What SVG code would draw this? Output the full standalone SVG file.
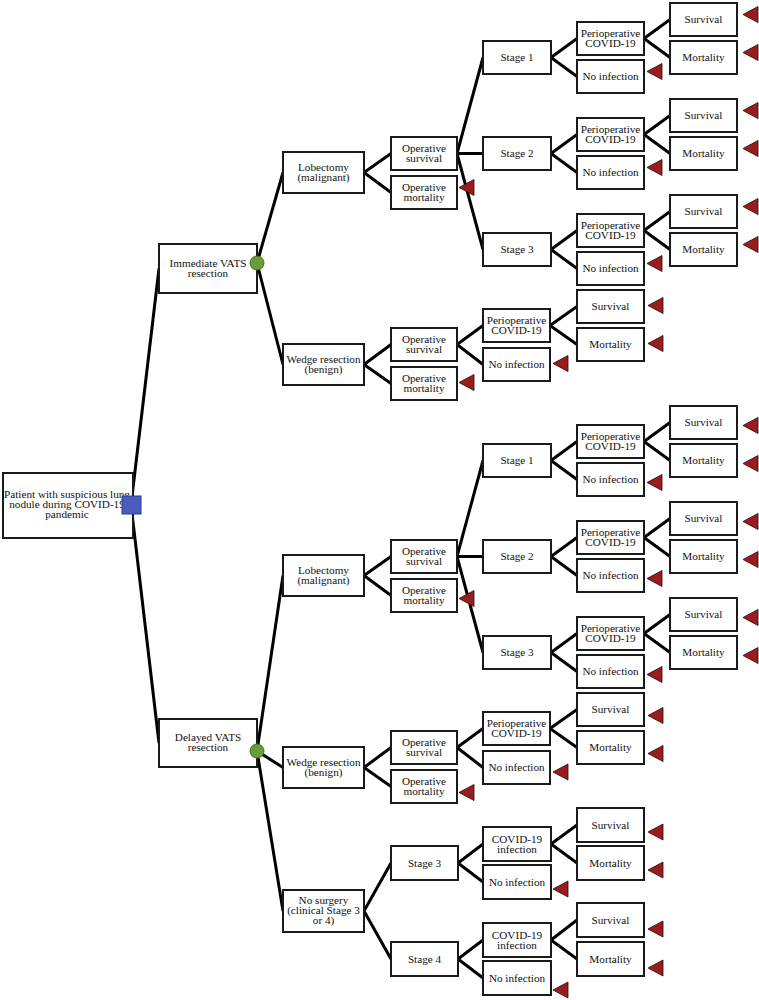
<svg xmlns="http://www.w3.org/2000/svg" width="759" height="1000" viewBox="0 0 759 1000">
<defs>
<style>
.b{fill:#fff;stroke:#1a1a1a;stroke-width:2}
.t{font-family:"Liberation Serif","Times New Roman",serif;font-size:11.2px;text-anchor:middle;fill:#111}
.c{stroke:#000;stroke-width:3;fill:none}
.tri{fill:#9b1c1c;stroke:#2a0a0a;stroke-width:0.8}
.chance{fill:#6b9c3a;stroke:#46701f;stroke-width:1}
.dec{fill:#4a5cc0;stroke:#2b3a8e;stroke-width:1}
</style>
<polygon id="term" class="tri" points="0,0 15,-8 15,8"/>
</defs>
<rect width="759" height="1000" fill="#fff"/>
<g id="connectors" class="c">
<path d="M131 505L159 268.5M131 505L159 743"/>
<path d="M257 263L283 172.5M257 263L283 364.5"/>
<path d="M364 172.5L391 153.5M364 172.5L391 192.5"/>
<path d="M457 153.5L483 57.5M457 153.5L483 153.5M457 153.5L483 249.5"/>
<path d="M551 57.5L577 38.5M551 57.5L577 76.5M644 38.5L670 19.5M644 38.5L670 57.5"/>
<path d="M551 153.5L577 134.5M551 153.5L577 172.5M644 134.5L670 115.5M644 134.5L670 153.5"/>
<path d="M551 249.5L577 230.5M551 249.5L577 268.5M644 230.5L670 211.5M644 230.5L670 249.5"/>
<path d="M364 364.5L391 344.5M364 364.5L391 383.5M457 344.5L483 325.5M457 344.5L483 364.5M550 325.5L577 306.5M550 325.5L577 344.5"/>
<path d="M257 751L283 575.5M257 751L283 767.5M257 751L283 911"/>
<path d="M364 575.5L391 556.5M364 575.5L391 595.5"/>
<path d="M457 556.5L483 460.5M457 556.5L483 556.5M457 556.5L483 652.5"/>
<path d="M551 460.5L577 441.5M551 460.5L577 479.5M644 441.5L670 422.5M644 441.5L670 460.5"/>
<path d="M551 556.5L577 537.5M551 556.5L577 575.5M644 537.5L670 518.5M644 537.5L670 556.5"/>
<path d="M551 652.5L577 633.5M551 652.5L577 671.5M644 633.5L670 614.5M644 633.5L670 652.5"/>
<path d="M364 767.5L391 747.5M364 767.5L391 786.5M457 747.5L483 728.5M457 747.5L483 767.5M550 728.5L577 709.5M550 728.5L577 747.5"/>
<path d="M364 911L391 863M364 911L391 959M458 863L483 844M458 863L483 882M551 844L577 825M551 844L577 863"/>
<path d="M458 959L483 940M458 959L483 978M551 940L577 920M551 940L577 959"/>
</g>
<g id="root"><rect class="b" x="3" y="473" width="130" height="65"/><text class="t"><tspan x="67" y="498">Patient with suspicious lung</tspan><tspan x="67" y="508">nodule during COVID-19</tspan><tspan x="67" y="518">pandemic</tspan></text></g>
<g id="immediate"><rect class="b" x="159" y="244" width="98" height="49"/><text class="t"><tspan x="208" y="267">Immediate VATS</tspan><tspan x="208" y="277">resection</tspan></text></g>
<g id="lob-u"><rect class="b" x="283" y="152" width="81" height="41"/><text class="t"><tspan x="323.5" y="171">Lobectomy</tspan><tspan x="323.5" y="181">(malignant)</tspan></text></g>
<g id="os-lob-u"><rect class="b" x="391" y="137" width="66" height="33"/><text class="t"><tspan x="424" y="152">Operative</tspan><tspan x="424" y="162">survival</tspan></text></g>
<g id="om-lob-u"><rect class="b" x="391" y="176" width="66" height="33"/><text class="t"><tspan x="424" y="191">Operative</tspan><tspan x="424" y="201">mortality</tspan></text></g>
<g id="s1-u"><rect class="b" x="483" y="41" width="68" height="33"/><text class="t" x="517" y="61">Stage 1</text></g>
<g id="p1-u"><rect class="b" x="577" y="22" width="67" height="33"/><text class="t"><tspan x="610.5" y="37">Perioperative</tspan><tspan x="610.5" y="47">COVID-19</tspan></text></g>
<g id="ni1-u"><rect class="b" x="577" y="60" width="67" height="33"/><text class="t" x="610.5" y="80">No infection</text></g>
<g id="sv1-u"><rect class="b" x="670" y="3" width="67" height="33"/><text class="t" x="703.5" y="23">Survival</text></g>
<g id="mt1-u"><rect class="b" x="670" y="41" width="67" height="33"/><text class="t" x="703.5" y="61">Mortality</text></g>
<g id="s2-u"><rect class="b" x="483" y="137" width="68" height="33"/><text class="t" x="517" y="157">Stage 2</text></g>
<g id="p2-u"><rect class="b" x="577" y="118" width="67" height="33"/><text class="t"><tspan x="610.5" y="133">Perioperative</tspan><tspan x="610.5" y="143">COVID-19</tspan></text></g>
<g id="ni2-u"><rect class="b" x="577" y="156" width="67" height="33"/><text class="t" x="610.5" y="176">No infection</text></g>
<g id="sv2-u"><rect class="b" x="670" y="99" width="67" height="33"/><text class="t" x="703.5" y="119">Survival</text></g>
<g id="mt2-u"><rect class="b" x="670" y="137" width="67" height="33"/><text class="t" x="703.5" y="157">Mortality</text></g>
<g id="s3-u"><rect class="b" x="483" y="233" width="68" height="33"/><text class="t" x="517" y="253">Stage 3</text></g>
<g id="p3-u"><rect class="b" x="577" y="214" width="67" height="33"/><text class="t"><tspan x="610.5" y="229">Perioperative</tspan><tspan x="610.5" y="239">COVID-19</tspan></text></g>
<g id="ni3-u"><rect class="b" x="577" y="252" width="67" height="33"/><text class="t" x="610.5" y="272">No infection</text></g>
<g id="sv3-u"><rect class="b" x="670" y="195" width="67" height="33"/><text class="t" x="703.5" y="215">Survival</text></g>
<g id="mt3-u"><rect class="b" x="670" y="233" width="67" height="33"/><text class="t" x="703.5" y="253">Mortality</text></g>
<g id="wedge-u"><rect class="b" x="283" y="344" width="81" height="41"/><text class="t"><tspan x="323.5" y="363">Wedge resection</tspan><tspan x="323.5" y="373">(benign)</tspan></text></g>
<g id="os-w-u"><rect class="b" x="391" y="328" width="66" height="33"/><text class="t"><tspan x="424" y="343">Operative</tspan><tspan x="424" y="353">survival</tspan></text></g>
<g id="om-w-u"><rect class="b" x="391" y="367" width="66" height="33"/><text class="t"><tspan x="424" y="382">Operative</tspan><tspan x="424" y="392">mortality</tspan></text></g>
<g id="pw-u"><rect class="b" x="483" y="309" width="67" height="33"/><text class="t"><tspan x="516.5" y="324">Perioperative</tspan><tspan x="516.5" y="334">COVID-19</tspan></text></g>
<g id="niw-u"><rect class="b" x="483" y="348" width="67" height="33"/><text class="t" x="516.5" y="368">No infection</text></g>
<g id="svw-u"><rect class="b" x="577" y="290" width="67" height="33"/><text class="t" x="610.5" y="310">Survival</text></g>
<g id="mtw-u"><rect class="b" x="577" y="328" width="67" height="33"/><text class="t" x="610.5" y="348">Mortality</text></g>
<g id="delayed"><rect class="b" x="159" y="719" width="98" height="48"/><text class="t"><tspan x="208" y="741">Delayed VATS</tspan><tspan x="208" y="751">resection</tspan></text></g>
<g id="lob-l"><rect class="b" x="283" y="555" width="81" height="41"/><text class="t"><tspan x="323.5" y="574">Lobectomy</tspan><tspan x="323.5" y="584">(malignant)</tspan></text></g>
<g id="os-lob-l"><rect class="b" x="391" y="540" width="66" height="33"/><text class="t"><tspan x="424" y="555">Operative</tspan><tspan x="424" y="565">survival</tspan></text></g>
<g id="om-lob-l"><rect class="b" x="391" y="579" width="66" height="33"/><text class="t"><tspan x="424" y="594">Operative</tspan><tspan x="424" y="604">mortality</tspan></text></g>
<g id="s1-l"><rect class="b" x="483" y="444" width="68" height="33"/><text class="t" x="517" y="464">Stage 1</text></g>
<g id="p1-l"><rect class="b" x="577" y="425" width="67" height="33"/><text class="t"><tspan x="610.5" y="440">Perioperative</tspan><tspan x="610.5" y="450">COVID-19</tspan></text></g>
<g id="ni1-l"><rect class="b" x="577" y="463" width="67" height="33"/><text class="t" x="610.5" y="483">No infection</text></g>
<g id="sv1-l"><rect class="b" x="670" y="406" width="67" height="33"/><text class="t" x="703.5" y="426">Survival</text></g>
<g id="mt1-l"><rect class="b" x="670" y="444" width="67" height="33"/><text class="t" x="703.5" y="464">Mortality</text></g>
<g id="s2-l"><rect class="b" x="483" y="540" width="68" height="33"/><text class="t" x="517" y="560">Stage 2</text></g>
<g id="p2-l"><rect class="b" x="577" y="521" width="67" height="33"/><text class="t"><tspan x="610.5" y="536">Perioperative</tspan><tspan x="610.5" y="546">COVID-19</tspan></text></g>
<g id="ni2-l"><rect class="b" x="577" y="559" width="67" height="33"/><text class="t" x="610.5" y="579">No infection</text></g>
<g id="sv2-l"><rect class="b" x="670" y="502" width="67" height="33"/><text class="t" x="703.5" y="522">Survival</text></g>
<g id="mt2-l"><rect class="b" x="670" y="540" width="67" height="33"/><text class="t" x="703.5" y="560">Mortality</text></g>
<g id="s3-l"><rect class="b" x="483" y="636" width="68" height="33"/><text class="t" x="517" y="656">Stage 3</text></g>
<g id="p3-l"><rect class="b" x="577" y="617" width="67" height="33"/><text class="t"><tspan x="610.5" y="632">Perioperative</tspan><tspan x="610.5" y="642">COVID-19</tspan></text></g>
<g id="ni3-l"><rect class="b" x="577" y="655" width="67" height="33"/><text class="t" x="610.5" y="675">No infection</text></g>
<g id="sv3-l"><rect class="b" x="670" y="598" width="67" height="33"/><text class="t" x="703.5" y="618">Survival</text></g>
<g id="mt3-l"><rect class="b" x="670" y="636" width="67" height="33"/><text class="t" x="703.5" y="656">Mortality</text></g>
<g id="wedge-l"><rect class="b" x="283" y="747" width="81" height="41"/><text class="t"><tspan x="323.5" y="766">Wedge resection</tspan><tspan x="323.5" y="776">(benign)</tspan></text></g>
<g id="os-w-l"><rect class="b" x="391" y="731" width="66" height="33"/><text class="t"><tspan x="424" y="746">Operative</tspan><tspan x="424" y="756">survival</tspan></text></g>
<g id="om-w-l"><rect class="b" x="391" y="770" width="66" height="33"/><text class="t"><tspan x="424" y="785">Operative</tspan><tspan x="424" y="795">mortality</tspan></text></g>
<g id="pw-l"><rect class="b" x="483" y="712" width="67" height="33"/><text class="t"><tspan x="516.5" y="727">Perioperative</tspan><tspan x="516.5" y="737">COVID-19</tspan></text></g>
<g id="niw-l"><rect class="b" x="483" y="751" width="67" height="33"/><text class="t" x="516.5" y="771">No infection</text></g>
<g id="svw-l"><rect class="b" x="577" y="693" width="67" height="33"/><text class="t" x="610.5" y="713">Survival</text></g>
<g id="mtw-l"><rect class="b" x="577" y="731" width="67" height="33"/><text class="t" x="610.5" y="751">Mortality</text></g>
<g id="nosurg"><rect class="b" x="283" y="890" width="81" height="42"/><text class="t"><tspan x="323.5" y="903.5">No surgery</tspan><tspan x="323.5" y="913.5">(clinical Stage 3</tspan><tspan x="323.5" y="923.5">or 4)</tspan></text></g>
<g id="ns-s3"><rect class="b" x="391" y="846" width="67" height="34"/><text class="t" x="424.5" y="866.5">Stage 3</text></g>
<g id="ns-s4"><rect class="b" x="391" y="942" width="67" height="34"/><text class="t" x="424.5" y="962.5">Stage 4</text></g>
<g id="ns-c3"><rect class="b" x="483" y="827" width="68" height="34"/><text class="t"><tspan x="517" y="842.5">COVID-19</tspan><tspan x="517" y="852.5">infection</tspan></text></g>
<g id="ns-ni3"><rect class="b" x="483" y="865" width="68" height="34"/><text class="t" x="517" y="885.5">No infection</text></g>
<g id="ns-sv3"><rect class="b" x="577" y="808" width="67" height="34"/><text class="t" x="610.5" y="828.5">Survival</text></g>
<g id="ns-mt3"><rect class="b" x="577" y="846" width="67" height="34"/><text class="t" x="610.5" y="866.5">Mortality</text></g>
<g id="ns-c4"><rect class="b" x="483" y="923" width="68" height="34"/><text class="t"><tspan x="517" y="938.5">COVID-19</tspan><tspan x="517" y="948.5">infection</tspan></text></g>
<g id="ns-ni4"><rect class="b" x="483" y="961" width="68" height="34"/><text class="t" x="517" y="981.5">No infection</text></g>
<g id="ns-sv4"><rect class="b" x="577" y="903" width="67" height="34"/><text class="t" x="610.5" y="923.5">Survival</text></g>
<g id="ns-mt4"><rect class="b" x="577" y="942" width="67" height="34"/><text class="t" x="610.5" y="962.5">Mortality</text></g>
<g id="decision"><rect class="dec" x="122" y="496" width="19" height="18"/></g>
<g id="chance-nodes">
<circle class="chance" cx="257" cy="263" r="7"/>
<circle class="chance" cx="257" cy="751" r="7"/>
</g>
<g id="terminals">
<use href="#term" x="743" y="14.5"/><use href="#term" x="743" y="52.5"/><use href="#term" x="647" y="71.5"/>
<use href="#term" x="743" y="110.5"/><use href="#term" x="743" y="148.5"/><use href="#term" x="647" y="167.5"/>
<use href="#term" x="743" y="206.5"/><use href="#term" x="743" y="244.5"/><use href="#term" x="647" y="263.5"/>
<use href="#term" x="459" y="187.5"/>
<use href="#term" x="648" y="305.5"/><use href="#term" x="648" y="343.5"/><use href="#term" x="553" y="363.5"/><use href="#term" x="459" y="382.5"/>
<use href="#term" x="743" y="425.5"/><use href="#term" x="743" y="463.5"/><use href="#term" x="647" y="482.5"/>
<use href="#term" x="743" y="521.5"/><use href="#term" x="743" y="559.5"/><use href="#term" x="647" y="578.5"/>
<use href="#term" x="743" y="617.5"/><use href="#term" x="743" y="655.5"/><use href="#term" x="647" y="674.5"/>
<use href="#term" x="459" y="598.5"/>
<use href="#term" x="648" y="715.5"/><use href="#term" x="648" y="753.5"/><use href="#term" x="553" y="772"/><use href="#term" x="459" y="792.5"/>
<use href="#term" x="648" y="832"/><use href="#term" x="648" y="870"/><use href="#term" x="553" y="889"/>
<use href="#term" x="648" y="929"/><use href="#term" x="648" y="968"/><use href="#term" x="553" y="990"/>
</g>
</svg>
